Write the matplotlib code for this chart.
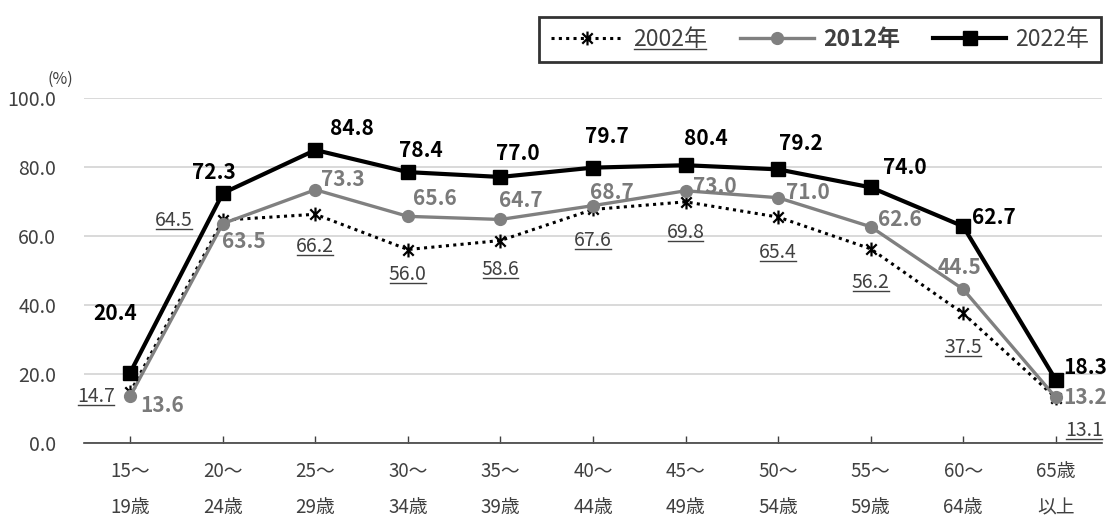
import matplotlib
matplotlib.use("Agg")
import matplotlib.pyplot as plt
from matplotlib.lines import Line2D
from matplotlib.path import Path

plt.rcParams['font.family'] = ['Noto Sans CJK JP', 'DejaVu Sans']

categories = ["15～\n19歳", "20～\n24歳", "25～\n29歳", "30～\n34歳", "35～\n39歳",
              "40～\n44歳", "45～\n49歳", "50～\n54歳", "55～\n59歳", "60～\n64歳", "65歳\n以上"]
rate_2002 = [14.7, 64.5, 66.2, 56.0, 58.6, 67.6, 69.8, 65.4, 56.2, 37.5, 13.1]
rate_2012 = [13.6, 63.5, 73.3, 65.6, 64.7, 68.7, 73.0, 71.0, 62.6, 44.5, 13.2]
rate_2022 = [20.4, 72.3, 84.8, 78.4, 77.0, 79.7, 80.4, 79.2, 74.0, 62.7, 18.3]
yticks = [0, 20, 40, 60, 80, 100]

# label offsets in pixels (dx, dy) relative to each point
off_2022 = [(-15, 59), (-9, 21), (37, 22), (13, 22), (17, 23), (14, 31), (20, 27), (23, 26), (34, 20), (31, 9), (29, 12)]
off_2012 = [(32, -9), (21, -18), (27, 10), (27, 18), (20, 19), (19, 13), (29, 4), (30, 5), (29, 7), (-4, 22), (29, 0)]
off_2002 = [(-34, -4), (-49, 0), (0, -32), (0, -25), (0, -29), (0, -31), (0, -31), (0, -35), (0, -34), (0, -34), (28, -33)]

# star marker: vertical bar crossed by an X
star = Path([(0, -1), (0, 1), (-0.75, -0.75), (0.75, 0.75), (-0.75, 0.75), (0.75, -0.75)],
            [Path.MOVETO, Path.LINETO, Path.MOVETO, Path.LINETO, Path.MOVETO, Path.LINETO])

fig = plt.figure(figsize=(11.12, 5.22), dpi=100)
ax = fig.add_axes([84 / 1112, 1 - 443 / 522, (1102 - 84) / 1112, (443 - 97.5) / 522])

x = list(range(len(categories)))
tc = "#404040"

l02, = ax.plot(x, rate_2002, color="black", lw=2.2, ls=(0, (1, 1.4)),
               marker=star, ms=10, mew=1.6, mec="black", zorder=3)
l12, = ax.plot(x, rate_2012, color="#808080", lw=2.4, marker="o", ms=8.5, zorder=4)
l22, = ax.plot(x, rate_2022, color="black", lw=3.0, marker="s", ms=10, zorder=5)

ax.set_xlim(-0.5, len(categories) - 0.5)
ax.set_ylim(0, 100)
ax.set_yticks(yticks)
ax.set_yticklabels([f"{v:.1f}" for v in yticks])
ax.set_xticks(x)
ax.set_xticklabels(categories, linespacing=1.95)
ax.tick_params(axis="y", length=0, pad=20, labelsize=14, labelcolor=tc)
ax.tick_params(axis="x", direction="in", length=5, width=1, color="#404040",
               pad=13, labelsize=13.5, labelcolor=tc)
ax.grid(axis="y", color="#d9d9d9", lw=1.4)
ax.set_axisbelow(True)
for s in ["top", "right", "left"]:
    ax.spines[s].set_visible(False)
ax.spines["bottom"].set_color("#404040")
ax.spines["bottom"].set_linewidth(1.2)

fig.text(60 / 1112, 1 - 79 / 522, "(%)", ha="center", va="center", fontsize=11.5, color=tc)

underlined = []
for i, v in enumerate(rate_2022):
    ax.annotate(f"{v:.1f}", (i, v), xytext=off_2022[i], textcoords="offset pixels",
                ha="center", va="center", fontsize=15, fontweight="bold", color="black", zorder=6)
for i, v in enumerate(rate_2012):
    ax.annotate(f"{v:.1f}", (i, v), xytext=off_2012[i], textcoords="offset pixels",
                ha="center", va="center", fontsize=15, fontweight="bold", color="#7a7a7a", zorder=6)
for i, v in enumerate(rate_2002):
    t = ax.annotate(f"{v:.1f}", (i, v), xytext=off_2002[i], textcoords="offset pixels",
                    ha="center", va="center", fontsize=14, color=tc, zorder=6)
    underlined.append(t)

leg = fig.legend([l02, l12, l22], ["2002年", "2012年", "2022年"], ncol=3,
                 loc="center", bbox_to_anchor=(820 / 1112, 1 - 39.5 / 522),
                 frameon=True, fancybox=False, edgecolor="black", fontsize=16.5,
                 handlelength=3.2, columnspacing=1.45, handletextpad=0.4,
                 borderpad=0.5, borderaxespad=0, labelcolor=tc)
leg.get_frame().set_linewidth(2)
leg_texts = leg.get_texts()
leg_texts[1].set_fontweight("bold")
underlined.append(leg_texts[0])

fig.canvas.draw()
renderer = fig.canvas.get_renderer()
inv = fig.transFigure.inverted()
for t in underlined:
    bb = t.get_window_extent(renderer)
    (x0, y0), (x1, _) = inv.transform([(bb.x0 + 1, bb.y0 + 2), (bb.x1 - 1, bb.y0 + 2)])
    fig.add_artist(Line2D([x0, x1], [y0, y0], transform=fig.transFigure,
                          color=tc, lw=1.0, zorder=7))

fig.savefig("out.png", dpi=100, facecolor="white")
